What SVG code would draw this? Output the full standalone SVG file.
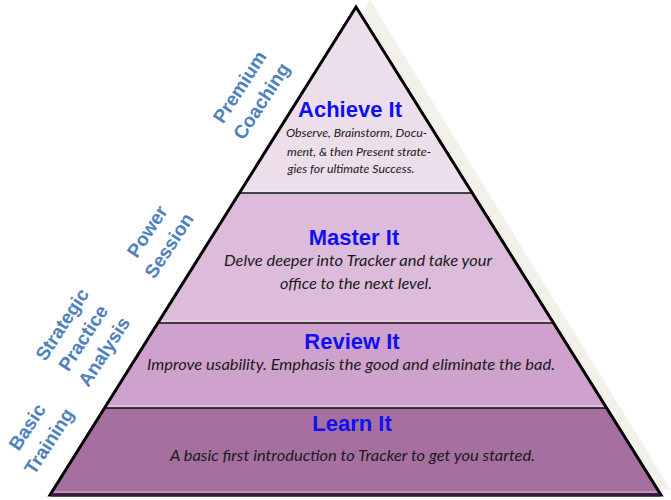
<svg xmlns="http://www.w3.org/2000/svg" width="671" height="500" viewBox="0 0 671 500">
<style>
.title{font-family:"Liberation Sans",Arial,sans-serif;font-weight:bold;font-size:22px;fill:#1010f2;text-anchor:middle}
.body{font-family:Lato,"Open Sans",sans-serif;font-style:italic;fill:#1a1a1a;text-anchor:middle}
.side{font-family:"Liberation Sans",Arial,sans-serif;font-weight:bold;font-size:19px;fill:#4f81bd;text-anchor:middle}
.sep{stroke:#111;stroke-width:1.6}
.hl{stroke:#ffffff;stroke-opacity:0.35;stroke-width:1.5;fill:none}
</style>
<rect width="671" height="500" fill="#ffffff"/>
<polygon id="shadow" points="370,0 671,490 62,490" fill="#f2f1ea"/>
<g id="achieve">
<polygon points="356,7 472.2,193 239.4,193" fill="#ecdfeb"/>
<text class="title" x="350" y="117">Achieve It</text>
<text class="body" font-size="12.3" x="356.5" y="137">Observe, Brainstorm, Docu-</text>
<text class="body" font-size="12.3" x="359" y="155.5">ment,  &amp; then Present strate-</text>
<text class="body" font-size="12.3" x="351" y="173">gies for ultimate Success.</text>
</g>
<g id="master">
<polygon points="239.4,193 472.2,193 553.5,323 157.9,323" fill="#ddbcdb"/>
<text class="title" x="354" y="245">Master It</text>
<text class="body" font-size="16" x="358" y="266" textLength="268" lengthAdjust="spacingAndGlyphs">Delve deeper into Tracker and take your</text>
<text class="body" font-size="16" x="356" y="289" textLength="152" lengthAdjust="spacingAndGlyphs">office to the next level.</text>
</g>
<g id="review">
<polygon points="157.9,323 553.5,323 606.6,408 104.6,408" fill="#cfa2cd"/>
<text class="title" x="352" y="349">Review It</text>
<text class="body" font-size="16" x="351" y="370" textLength="408" lengthAdjust="spacingAndGlyphs">Improve usability. Emphasis the good and eliminate the bad.</text>
</g>
<g id="learn">
<polygon points="104.6,408 606.6,408 661,495 50,495" fill="#a5709f"/>
<text class="title" x="352" y="431">Learn It</text>
<text class="body" font-size="16" x="352.5" y="461" textLength="365" lengthAdjust="spacingAndGlyphs">A basic first introduction to Tracker to get you started.</text>
</g>
<g id="connectors">
<line class="hl" x1="241" y1="191" x2="470" y2="191"/>
<line class="hl" x1="160" y1="321" x2="552" y2="321"/>
<line class="hl" x1="106" y1="406" x2="605" y2="406"/>
<line class="hl" x1="53" y1="492" x2="658" y2="492"/>
<line class="sep" x1="239.4" y1="193" x2="472.2" y2="193"/>
<line class="sep" x1="157.9" y1="323" x2="553.5" y2="323"/>
<line class="sep" x1="104.6" y1="408" x2="606.6" y2="408"/>
<polygon points="356,7 661,495 50,495" fill="none" stroke="#000" stroke-width="3" stroke-linejoin="miter"/>
<line x1="51" y1="495" x2="660" y2="495" stroke="#3a1638" stroke-width="3"/>
</g>
<g id="label-premium" transform="translate(250.5,94) rotate(-57)">
<text class="side"><tspan x="0" y="-6.4">Premium</tspan><tspan x="0" y="19.6">Coaching</tspan></text>
</g>
<g id="label-power" transform="translate(158,238.5) rotate(-57)">
<text class="side"><tspan x="0" y="-6.4">Power</tspan><tspan x="0" y="19.6">Session</tspan></text>
</g>
<g id="label-strategic" transform="translate(83,338) rotate(-57)">
<text class="side"><tspan x="0" y="-18.4">Strategic</tspan><tspan x="0" y="6.6">Practice</tspan><tspan x="0" y="31.6">Analysis</tspan></text>
</g>
<g id="label-basic" transform="translate(38,434) rotate(-57)">
<text class="side"><tspan x="0" y="-6.4">Basic</tspan><tspan x="0" y="19.6">Training</tspan></text>
</g>
</svg>
